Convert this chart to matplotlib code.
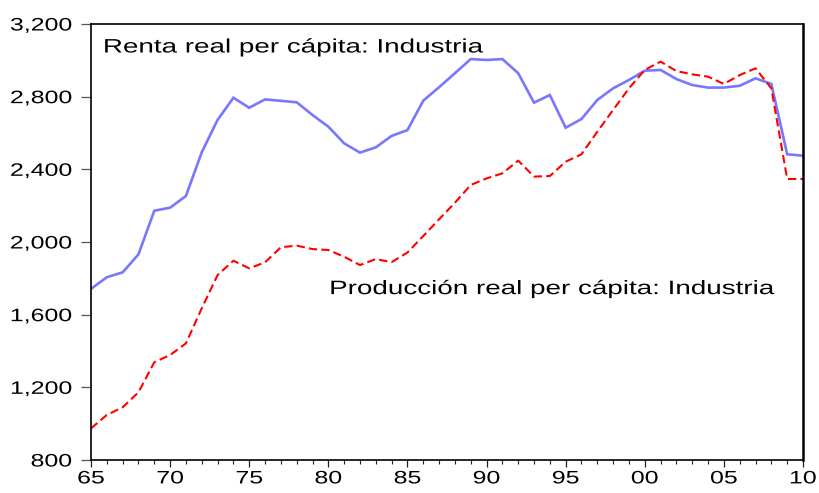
import matplotlib
matplotlib.use("Agg")
import matplotlib.pyplot as plt
from matplotlib.patheffects import AbstractPathEffect
from matplotlib.transforms import Affine2D
from matplotlib.ticker import FixedLocator, MultipleLocator, FuncFormatter

years = list(range(1965, 2011))
renta = [1742, 1806, 1833, 1932, 2172, 2189, 2253, 2494, 2672, 2794,
         2739, 2785, 2777, 2769, 2699, 2635, 2543, 2492, 2521, 2584,
         2616, 2778, 2852, 2929, 3007, 3002, 3007, 2929, 2767, 2809,
         2629, 2677, 2782, 2846, 2892, 2943, 2947, 2897, 2864, 2850,
         2850, 2860, 2901, 2870, 2483, 2475]
produccion = [974, 1048, 1090, 1173, 1338, 1378, 1442, 1635, 1818, 1897,
              1855, 1888, 1971, 1980, 1961, 1956, 1919, 1873, 1906, 1889,
              1942, 2033, 2125, 2216, 2314, 2350, 2378, 2448, 2360, 2363,
              2442, 2483, 2607, 2727, 2846, 2947, 2993, 2941, 2923, 2910,
              2870, 2919, 2956, 2846, 2347, 2347]
label_renta = "Renta real per cápita: Industria"
label_prod = "Producción real per cápita: Industria"
yticks = [800, 1200, 1600, 2000, 2400, 2800, 3200]
xticks = [1965, 1970, 1975, 1980, 1985, 1990, 1995, 2000, 2005, 2010]


class Stretch(AbstractPathEffect):
    """Draw text horizontally stretched (the reference is wide-scaled)."""
    def __init__(self, sx=1.4, pivot="left"):
        super().__init__()
        self.sx = sx
        self.pivot = pivot

    def draw_path(self, renderer, gc, tpath, affine, rgbFace=None):
        ext = tpath.get_extents(affine)
        if self.pivot == "left":
            px = affine.transform((0, 0))[0]
        elif self.pivot == "right":
            px = ext.x1
        else:
            px = 0.5 * (ext.x0 + ext.x1)
        new = affine + Affine2D().translate(-px, 0).scale(self.sx, 1).translate(px, 0)
        renderer.draw_path(gc, tpath, new, rgbFace)


plt.rcParams['font.family'] = ['Liberation Sans', 'DejaVu Sans']

fig = plt.figure(figsize=(8.19, 4.93), dpi=100)
ax = fig.add_axes([91 / 819, 33 / 493, 712 / 819, 436 / 493])

ax.plot(years, renta, color="#7777FF", lw=1.9, solid_joinstyle="miter")
ax.plot(years, produccion, color="#FF0000", lw=1.5, linestyle=(0, (4, 2)))

ax.set_xlim(1965, 2010)
ax.set_ylim(800, 3200)

ax.xaxis.set_major_locator(FixedLocator(xticks))
ax.xaxis.set_minor_locator(MultipleLocator(1))
ax.xaxis.set_major_formatter(FuncFormatter(lambda v, p: f"{int(round(v)) % 100:02d}"))
ax.yaxis.set_major_locator(FixedLocator(yticks))
ax.yaxis.set_major_formatter(FuncFormatter(lambda v, p: f"{int(v):,}"))

ax.tick_params(axis="y", which="major", direction="out", length=7.2, width=0.9,
               color="#555555", labelsize=13, pad=6.5, labelcolor="black")
ax.tick_params(axis="x", which="major", direction="out", length=5, width=0.9,
               color="#222222", labelsize=13, pad=2.5, labelcolor="black")
ax.tick_params(axis="x", which="minor", direction="out", length=3, width=0.8,
               color="#222222")
ax.tick_params(axis="y", which="minor", left=False)

for lab in ax.get_yticklabels():
    lab.set_path_effects([Stretch(1.38, "right")])
for lab in ax.get_xticklabels():
    lab.set_path_effects([Stretch(1.38, "center")])

for s in ["left", "bottom", "top"]:
    ax.spines[s].set_linewidth(1.2)
    ax.spines[s].set_color("black")
ax.spines["right"].set_linewidth(1.8)
ax.spines["right"].set_color("black")

t1 = ax.text(1965.75, 3068, label_renta, fontsize=14, color="black",
             ha="left", va="center")
t1.set_path_effects([Stretch(1.43, "left")])
t2 = ax.text(1980.05, 1738, label_prod, fontsize=14, color="black",
             ha="left", va="center")
t2.set_path_effects([Stretch(1.43, "left")])

fig.savefig("out.png", dpi=100)
